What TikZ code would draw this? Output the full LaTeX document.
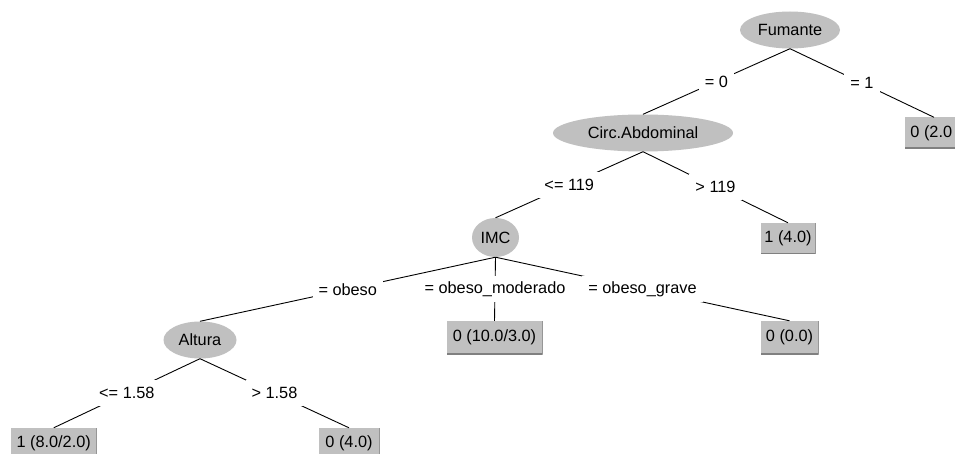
\documentclass[tikz,border=0pt]{standalone}
\usepackage{fontspec}
\setmainfont{Liberation Sans}
\usetikzlibrary{shapes.geometric}
\definecolor{nodegray}{RGB}{192,192,192}
\definecolor{edgegray}{RGB}{128,128,128}
\tikzset{
  inode/.style={ellipse, fill=nodegray, inner sep=0pt, minimum height=37pt},
  leaf/.style={rectangle, fill=nodegray, inner sep=0pt, minimum height=31pt,
    path picture={\draw[edgegray, line width=2pt]
      (path picture bounding box.north east) -- (path picture bounding box.south east)
      -- (path picture bounding box.south west);}},
  lbl/.style={fill=white, inner xsep=6pt, inner ysep=0pt, minimum height=26pt},
  conn/.style={draw=black, line width=0.9pt},
}
\begin{document}
\begin{tikzpicture}[x=1pt, y=-1pt, font=\fontsize{16.3}{19}\selectfont]
\path[use as bounding box, clip] (0,0) rectangle (955,454);
\fill[white] (0,0) rectangle (955,454);

% nodes
\node[inode, minimum width=100pt] (F) at (790,30) {Fumante};
\node[inode, minimum width=180pt] (C) at (643,133) {Circ.Abdominal};
\node[leaf, minimum width=58pt] (L1) at (934,133) {0 (2.0\phantom{)}};
\node[inode, minimum width=47pt, minimum height=39pt] (I) at (495.5,237.5) {IMC};
\node[leaf, minimum width=55pt] (L2) at (788,238.5) {1 (4.0)};
\node[inode, minimum width=73pt] (A) at (200,340) {Altura};
\node[leaf, minimum width=96pt, minimum height=33pt] (L3) at (494.5,337.5) {0 (10.0/3.0)};
\node[leaf, minimum width=58pt, minimum height=33pt] (L4) at (789.5,337.5) {0 (0.0)};
\node[leaf, minimum width=86pt] (L5) at (53.7,443.5) {1 (8.0/2.0)};
\node[leaf, minimum width=61pt] (L6) at (349,443.5) {0 (4.0)};

% connectors with labels
\draw[conn] (F.south) -- (C.north) node[lbl, midway] (e1) {= 0};
\draw[conn] (F.south) -- (L1.north) node[lbl, midway] (e2) {= 1};
\draw[conn] (C.south) -- (I.north) node[lbl, midway] (e3) {<= 119};
\draw[conn] (C.south) -- (L2.north) node[lbl, midway] (e4) {> 119};
\draw[conn] (I.south) -- (A.north) node[lbl, midway] (e5) {= obeso};
\draw[conn] (I.south) -- (L4.north) node[lbl, midway] (e7) {= obeso\_grave};
\draw[conn] (I.south) -- (L3.north) node[lbl, midway] (e6) {= obeso\_moderado};
\draw[conn] (A.south) -- (L5.north) node[lbl, midway] (e8) {<= 1.58};
\draw[conn] (A.south) -- (L6.north) node[lbl, midway] (e9) {> 1.58};
\end{tikzpicture}
\end{document}
